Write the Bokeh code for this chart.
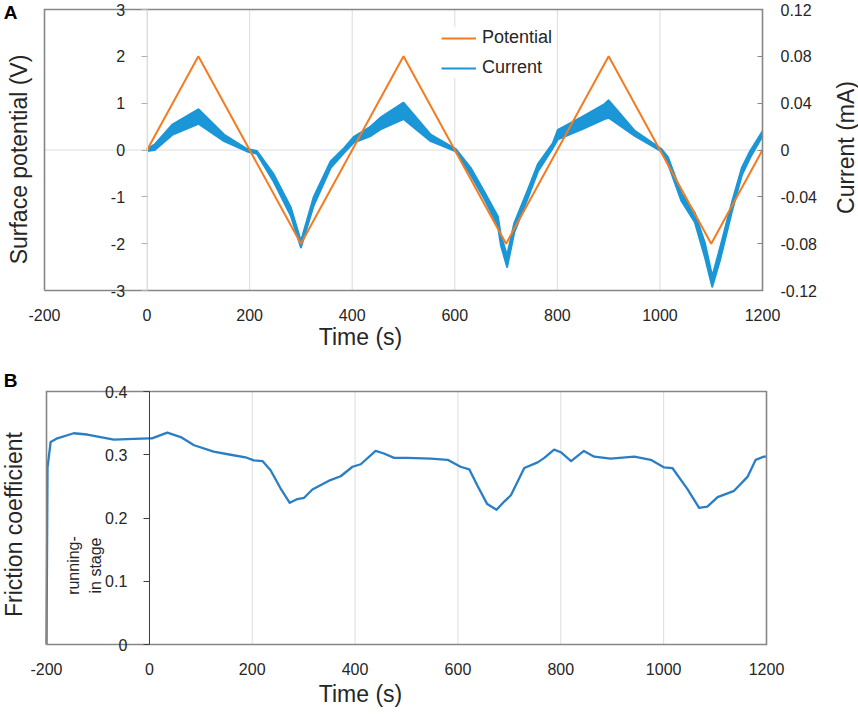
import math
from bokeh.plotting import figure
from bokeh.models import (LinearAxis, Range1d, FixedTicker, Label,
                          Legend, LegendItem)
from bokeh.layouts import column
from bokeh.embed import file_html
from bokeh.resources import INLINE

FONT = "Liberation Sans"
TXT = "#262626"

# ---------------- data ----------------
time_ticks = [-200, 0, 200, 400, 600, 800, 1000, 1200]
time_labels = ["-200", "0", "200", "400", "600", "800", "1000", "1200"]
potential_ticks = [-3, -2, -1, 0, 1, 2, 3]
potential_labels = ["-3", "-2", "-1", "0", "1", "2", "3"]
current_ticks = [-0.12, -0.08, -0.04, 0, 0.04, 0.08, 0.12]
current_labels = ["-0.12", "-0.08", "-0.04", "0", "0.04", "0.08", "0.12"]
friction_ticks = [0, 0.1, 0.2, 0.3, 0.4]
friction_labels = ["0", "0.1", "0.2", "0.3", "0.4"]

pot_t = [0, 100, 300, 500, 700, 900, 1100, 1200]
pot_v = [0, 2, -2, 2, -2, 2, -2, 0]

cur_t = [0, 15, 50, 100, 150, 195, 214, 247, 280, 300, 325, 358, 384, 403,
         436, 455, 500, 553, 602, 631, 657, 684, 690, 702, 716, 742, 762,
         791, 801, 850, 892, 900, 951, 1003, 1016, 1042, 1068, 1088, 1102,
         1117, 1140, 1160, 1176, 1200]
cur_hi = [0.0008, 0.0048, 0.022, 0.0348, 0.0132, 0.0008, -0.0008, -0.0208,
          -0.0488, -0.078, -0.040, -0.0096, 0.0016, 0.0112, 0.020, 0.0276,
          0.0404, 0.0132, 0.0008, -0.0152, -0.0352, -0.0568, -0.0736, -0.090,
          -0.0624, -0.0344, -0.012, 0.0056, 0.0172, 0.0288, 0.0392, 0.0424,
          0.0164, 0.0008, -0.0064, -0.0372, -0.0536, -0.080, -0.108, -0.084,
          -0.0452, -0.0148, -0.0008, 0.016]
cur_lo = [-0.0008, 0.0, 0.0132, 0.0224, 0.0076, -0.0012, -0.0032, -0.0272,
          -0.056, -0.0832, -0.0472, -0.0152, -0.0024, 0.0064, 0.012, 0.0176,
          0.0264, 0.0076, -0.0012, -0.0212, -0.0412, -0.0648, -0.0816, -0.100,
          -0.0704, -0.0416, -0.0184, 0.0016, 0.0092, 0.018, 0.0264, 0.0276,
          0.012, -0.0012, -0.012, -0.0436, -0.0616, -0.092, -0.1168, -0.0944,
          -0.0532, -0.0212, -0.0064, 0.012]

fric_t = [-200, -198, -192, -179, -147, -121, -69, -30, 0, 5, 35, 61, 87,
          125, 158, 187, 203, 220, 236, 255, 273, 288, 301, 317, 352, 372,
          395, 411, 440, 456, 476, 502, 547, 580, 605, 622, 638, 657, 675,
          690, 703, 729, 755, 768, 787, 800, 820, 845, 865, 897, 943, 975,
          1001, 1017, 1046, 1069, 1085, 1105, 1137, 1163, 1179, 1195, 1200]
fric_v = [0.0, 0.28, 0.32, 0.326, 0.334, 0.332, 0.324, 0.325, 0.326, 0.326,
          0.335, 0.328, 0.315, 0.305, 0.300, 0.296, 0.291, 0.290, 0.275,
          0.247, 0.224, 0.230, 0.232, 0.245, 0.260, 0.266, 0.281, 0.285,
          0.306, 0.302, 0.295, 0.295, 0.294, 0.292, 0.281, 0.277, 0.251,
          0.222, 0.213, 0.226, 0.236, 0.279, 0.288, 0.295, 0.308, 0.304,
          0.290, 0.306, 0.297, 0.294, 0.297, 0.292, 0.280, 0.279, 0.246,
          0.216, 0.218, 0.233, 0.243, 0.265, 0.292, 0.297, 0.297]

ORANGE = "#f47b20"
BLUE = "#1b96d6"
BLUE2 = "#2a7ec4"
GRID = "#dcdcdc"
FRAME = "#868686"
W = 858
X0, X1 = time_ticks[0], time_ticks[-1]


def make_panel(height, box_left, box_right, box_top, box_bottom, ylo, yhi):
    """The frame fills the whole canvas; the plotting box (in canvas pixels)
    sits inside it, so every outer text is drawn inside the frame."""
    xs = (X1 - X0) / (box_right - box_left)
    ys = (yhi - ylo) / (box_bottom - box_top)
    p = figure(width=W, height=height, output_backend="svg",
               toolbar_location=None,
               x_range=Range1d(X0 - box_left * xs, X1 + (W - box_right) * xs),
               y_range=Range1d(ylo - (height - box_bottom) * ys,
                               yhi + box_top * ys),
               min_border_left=0, min_border_right=0,
               min_border_top=0, min_border_bottom=0)
    p.outline_line_color = None
    p.background_fill_color = "white"
    p.border_fill_color = "white"
    p.xgrid.visible = False
    p.ygrid.visible = False
    xa = p.xaxis[0]
    xa.fixed_location = ylo
    xa.ticker = FixedTicker(ticks=time_ticks)
    xa.major_label_overrides = dict(zip(time_ticks, time_labels))
    xa.major_label_text_font = FONT
    xa.major_label_text_font_size = "16px"
    xa.major_label_text_color = TXT
    xa.major_label_standoff = 12
    xa.major_tick_line_color = None
    xa.minor_tick_line_color = None
    xa.axis_line_color = None
    # vertical grid lines limited to the plotting box
    p.segment(x0=time_ticks, y0=[ylo] * len(time_ticks), x1=time_ticks,
              y1=[yhi] * len(time_ticks), line_color=GRID, line_width=1,
              level="underlay")
    return p


def frame_box(p, ylo, yhi):
    # outline of the plotting box as one closed polyline
    p.line(x=[X0, X1, X1, X0, X0], y=[ylo, ylo, yhi, yhi, ylo],
           line_color=FRAME, line_width=1.6, line_join="miter")


def left_axis(ax, ticks, labels, line_color, tick_color):
    ax.fixed_location = 0
    ax.ticker = FixedTicker(ticks=ticks)
    ax.major_label_overrides = dict(zip(ticks, labels))
    ax.bounds = (ticks[0], ticks[-1])
    ax.axis_line_color = line_color
    ax.major_tick_line_color = tick_color
    ax.major_tick_out = 6
    ax.major_tick_in = 0
    ax.minor_tick_line_color = None
    ax.major_label_text_font = FONT
    ax.major_label_text_font_size = "16px"
    ax.major_label_text_color = TXT
    ax.major_label_standoff = 16


def side_text(p, text, x, y, size, bold=False, angle=0.0):
    # x, y in canvas pixels measured from the canvas' bottom-left corner
    p.add_layout(Label(x=x, y=y, x_units="screen", y_units="screen", text=text,
                       angle=angle, text_font=FONT, text_font_size=size,
                       text_font_style="bold" if bold else "normal",
                       text_align="center", text_baseline="middle",
                       text_color="black" if bold else TXT))


# ---------------- panel A ----------------
H1 = 368
ylo1, yhi1 = potential_ticks[0], potential_ticks[-1]
p1 = make_panel(H1, 44, 762, 9, 290, ylo1, yhi1)
cscale = current_ticks[-1] / yhi1
p1.extra_y_ranges = {"current": Range1d(p1.y_range.start * cscale,
                                        p1.y_range.end * cscale)}
# horizontal zero line across the box
p1.segment(x0=[X0], y0=[0], x1=[X1], y1=[0], line_color=GRID, line_width=1,
           level="underlay")
left_axis(p1.yaxis[0], potential_ticks, potential_labels, GRID, "#b0b0b0")

ra = LinearAxis(y_range_name="current", ticker=FixedTicker(ticks=current_ticks),
                fixed_location=X1)
ra.major_label_overrides = dict(zip(current_ticks, current_labels))
ra.bounds = (current_ticks[0], current_ticks[-1])
ra.axis_line_color = None
ra.major_tick_line_color = FRAME
ra.major_tick_in = 5
ra.major_tick_out = 0
ra.minor_tick_line_color = None
ra.major_label_text_font = FONT
ra.major_label_text_font_size = "16px"
ra.major_label_text_color = TXT
ra.major_label_standoff = 18
p1.add_layout(ra, "right")

p1.varea(x=cur_t, y1=cur_lo, y2=cur_hi, fill_color=BLUE, y_range_name="current")
r_hi = p1.line(cur_t, cur_hi, line_color=BLUE, line_width=2,
               y_range_name="current", line_join="round")
p1.line(cur_t, cur_lo, line_color=BLUE, line_width=2,
        y_range_name="current", line_join="round")
r_pot = p1.line(pot_t, pot_v, line_color=ORANGE, line_width=2)
frame_box(p1, ylo1, yhi1)

leg = Legend(items=[LegendItem(label="Potential", renderers=[r_pot]),
                    LegendItem(label="Current", renderers=[r_hi])],
             location=(441, H1 - 78), padding=0, margin=0, spacing=9,
             glyph_width=35, glyph_height=20, label_standoff=6,
             label_text_font=FONT, label_text_font_size="18px",
             label_text_color=TXT, border_line_color=None,
             background_fill_color="white", background_fill_alpha=1)
p1.add_layout(leg)

side_text(p1, "A", 10, H1 - 12, "19px", bold=True)
side_text(p1, "Surface potential (V)", 18, H1 - 159, "23px", angle=math.pi / 2)
side_text(p1, "Current (mA)", 845, H1 - 147, "23px", angle=math.pi / 2)
side_text(p1, "Time (s)", 360, H1 - 336, "23px")

# ---------------- panel B ----------------
H2 = 346
ylo2, yhi2 = friction_ticks[0], friction_ticks[-1]
p2 = make_panel(H2, 46, 766, 23, 276, ylo2, yhi2)
left_axis(p2.yaxis[0], friction_ticks, friction_labels, "#404040", "#404040")

p2.line(fric_t, fric_v, line_color=BLUE2, line_width=2.3, line_join="round")
frame_box(p2, ylo2, yhi2)

side_text(p2, "B", 10, H2 - 12, "19px", bold=True)
side_text(p2, "Friction coefficient", 13, H2 - 156, "23px", angle=math.pi / 2)
side_text(p2, "running-", 73, H2 - 197, "16px", angle=math.pi / 2)
side_text(p2, "in stage", 95, H2 - 197, "16px", angle=math.pi / 2)
side_text(p2, "Time (s)", 360, H2 - 325, "23px")

layout = column(p1, p2)
open("out.html", "w").write(file_html(layout, INLINE))
